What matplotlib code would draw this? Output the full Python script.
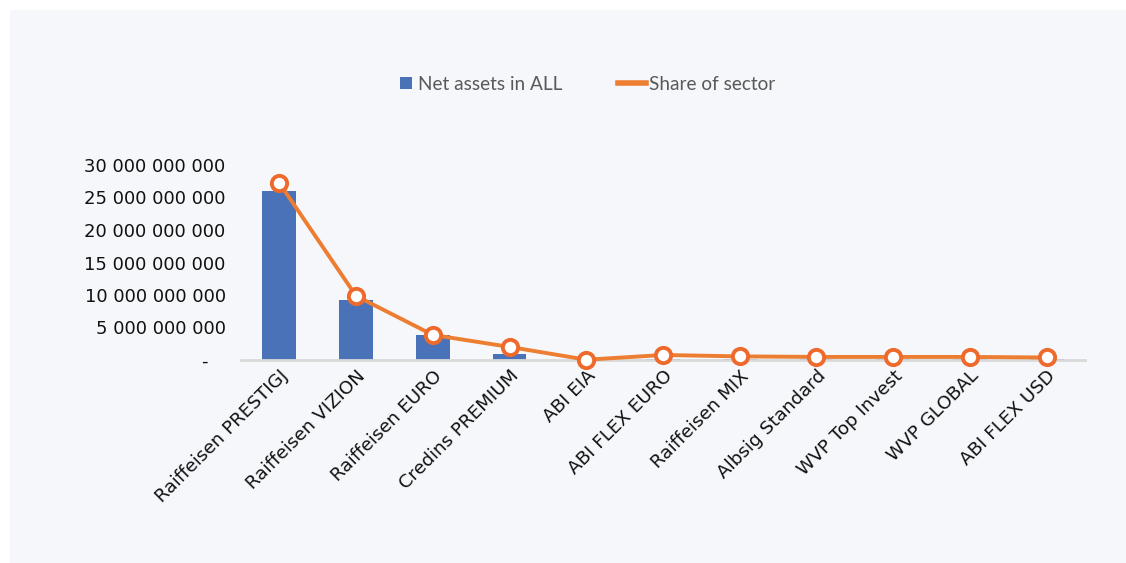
import matplotlib
matplotlib.use('Agg')
from matplotlib import pyplot as plt
from matplotlib.patches import Rectangle
from matplotlib.lines import Line2D
from matplotlib.ticker import FuncFormatter

funds = ['Raiffeisen PRESTIGJ', 'Raiffeisen VIZION', 'Raiffeisen EURO', 'Credins PREMIUM',
         'ABI EIA', 'ABI FLEX EURO', 'Raiffeisen MIX', 'Albsig Standard',
         'WVP Top Invest', 'WVP GLOBAL', 'ABI FLEX USD']
net_assets = [26.0e9, 9.2e9, 3.85e9, 0.9e9, 0.05e9, 0.08e9, 0.08e9, 0.08e9, 0.08e9, 0.08e9, 0.08e9]
share = [63.5, 23.0, 9.0, 4.7, 0.1, 1.8, 1.3, 1.1, 1.1, 1.1, 0.9]

blue = '#4a72b8'
orange = '#ed7d31'
panel = '#f6f7fb'

fig = plt.figure(figsize=(11.26, 5.63), dpi=100, facecolor='white')
fig.patches.append(Rectangle((10/1126, 0), 1, 1-10/563, transform=fig.transFigure,
                             facecolor=panel, edgecolor='none', zorder=-10))

ax = fig.add_axes([241/1126, 1-360/563, (1085-241)/1126, (360-165)/563])
ax.set_facecolor('none')
x = range(len(funds))
ax.bar(x, net_assets, width=0.44, color=blue, zorder=2)
ax.set_xlim(-0.5, len(funds)-0.5)
ax.set_ylim(0, 30e9)
ax.set_yticks([i*5e9 for i in range(7)])

def fmt(v, pos):
    if v == 0:
        return '-   '
    return '{:,.0f}'.format(v).replace(',', ' ')

ax.yaxis.set_major_formatter(FuncFormatter(fmt))
for s in ['top', 'right', 'left']:
    ax.spines[s].set_visible(False)
ax.spines['bottom'].set_color('#d9d9d9')
ax.spines['bottom'].set_linewidth(2)
ax.tick_params(axis='y', length=0, pad=11, labelsize=13, labelcolor='#111111')
ax.tick_params(axis='x', length=0, pad=5, labelsize=13.2, labelcolor='#111111')
ax.set_xticks(list(x))
ax.set_xticklabels(funds, rotation=45, ha='right', va='top', rotation_mode='anchor')

ax2 = ax.twinx()
ax2.set_ylim(0, 70)
ax2.axis('off')
ax2.plot(list(x), share, color=orange, lw=2.8, marker='o', markersize=11,
         markerfacecolor='white', markeredgecolor='#ee6a2c', markeredgewidth=2.8,
         zorder=3, clip_on=False)

# two legend entries, placed separately so the handles can differ in length
h1 = Rectangle((0, 0), 1, 1, facecolor=blue)
h2 = Line2D([0], [0], color=orange, lw=4)
fig.legend([h1], ['Net assets in ALL'], loc='center left',
           bbox_to_anchor=(383/1126, 1-84/563), frameon=False,
           prop={'family': 'Lato', 'size': 13.7}, labelcolor='#595959',
           handlelength=0.62, handleheight=0.62, handletextpad=0.3)
fig.legend([h2], ['Share of sector'], loc='center left',
           bbox_to_anchor=(601/1126, 1-84/563), frameon=False,
           prop={'family': 'Lato', 'size': 13.7}, labelcolor='#595959',
           handlelength=1.45, handletextpad=0.15)

fig.savefig('out.png', dpi=100, facecolor='white')
